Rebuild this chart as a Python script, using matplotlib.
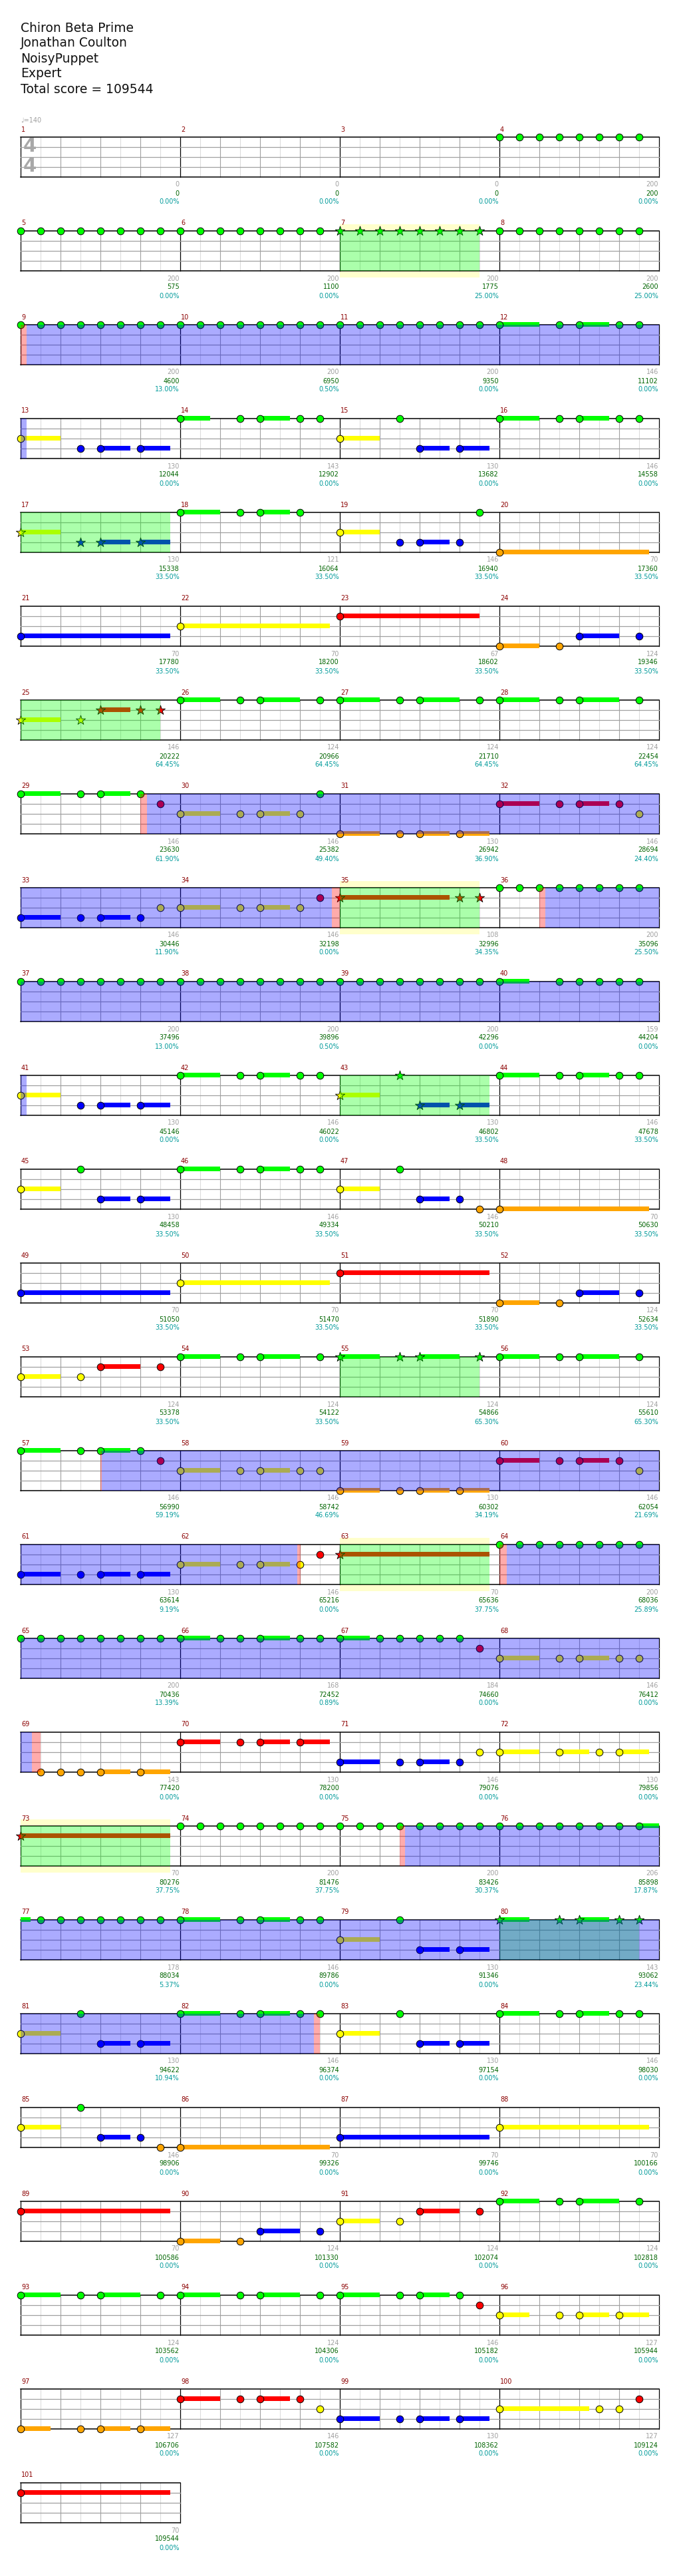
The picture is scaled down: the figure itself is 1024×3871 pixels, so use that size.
import matplotlib
matplotlib.use('Agg')
import matplotlib.pyplot as plt
from matplotlib.patches import Rectangle

title_lines = ["Chiron Beta Prime", "Jonathan Coulton", "NoisyPuppet", "Expert",
               "Total score = 109544"]
tempo = 140

E8 = "0g 2g 4g 6g 8g 10g 12g 14g"
# one string per measure: <pos in 16ths><lane>[sustain in 16ths], "~" = sustain tail only
measure_notes = [
    "", "", "", E8,
    E8, E8, E8, E8,
    E8, E8, E8, "0g4 6g 8g3 12g 14g",
    "0y4 6b 8b3 12b3", "0g3 6g 8g3 12g 14g", "0y4 6g 8b3 12b3", "0g4 6g 8g3 12g 14g",
    "0y4 6b 8b3 12b3", "0g4 6g 8g3 12g", "0y4 6b 8b3 12b 14g", "0o15",
    "0b15", "0y15", "0r14", "0o4 6o 8b4 14b",
    "0y4 6y 8r3 12r 14r", "0g4 6g 8g4 14g", "0g4 6g 8g4 14g", "0g4 6g 8g4 14g",
    "0g4 6g 8g3 12g 14r", "0y4 6y 8y3 12y 14g", "0o4 6o 8o3 12o3", "0r4 6r 8r3 12r 14y",
    "0b4 6b 8b3 12b 14y", "0y4 6y 8y3 12y 14r", "0r11 12r 14r", E8,
    E8, E8, E8, "0g3 6g 8g 10g 12g 14g",
    "0y4 6b 8b3 12b3", "0g4 6g 8g3 12g 14g", "0y4 6g 8b3 12b3", "0g4 6g 8g3 12g 14g",
    "0y4 6g 8b3 12b3", "0g4 6g 8g3 12g 14g", "0y4 6g 8b3 12b 14o", "0o15",
    "0b15", "0y15", "0r15", "0o4 6o 8b4 14b",
    "0y4 6y 8r4 14r", "0g4 6g 8g4 14g", "0g4 6g 8g4 14g", "0g4 6g 8g4 14g",
    "0g4 6g 8g3 12g 14r", "0y4 6y 8y3 12y 14y", "0o4 6o 8o3 12o3", "0r4 6r 8r3 12r 14y",
    "0b4 6b 8b3 12b3", "0y4 6y 8y3 12y 14r", "0r15", E8,
    E8, "0g3 4g 6g 8g3 12g 14g", "0g3 4g 6g 8g 10g 12g 14r", "0y4 6y 8y3 12y 14y",
    "2o 4o 6o 8o3 12o3", "0r4 6r 8r3 12r3", "0b4 6b 8b3 12b 14y", "0y4 6y3 10y 12y3",
    "0r15", E8, E8, "0g 2g 4g 6g 8g 10g 12g 14g2",
    "~0g1 2g 4g 6g 8g 10g 12g 14g", "0g4 6g 8g3 12g 14g", "0y4 6g 8b3 12b3", "0g3 6g 8g3 12g 14g",
    "0y4 6g 8b3 12b3", "0g4 6g 8g3 12g 14g", "0y4 6g 8b3 12b3", "0g4 6g 8g3 12g 14g",
    "0y4 6g 8b3 12b 14o", "0o15", "0b15", "0y15",
    "0r15", "0o4 6o 8b4 14b", "0y4 6y 8r4 14r", "0g4 6g 8g4 14g",
    "0g4 6g 8g4 14g", "0g4 6g 8g4 14g", "0g4 6g 8g3 12g 14r", "0y3 6y 8y3 12y3",
    "0o3 6o 8o3 12o3", "0r4 6r 8r3 12r 14y", "0b4 6b 8b3 12b3", "0y9 10y 12y 14r",
    "0r15",
]

note_score = [0, 0, 0, 200, 200, 200, 200, 200, 200, 200, 200, 146, 130, 143, 130, 146,
              130, 121, 146, 70, 70, 70, 67, 124, 146, 124, 124, 124, 146, 146, 130, 146,
              146, 146, 108, 200, 200, 200, 200, 159, 130, 146, 130, 146, 130, 146, 146, 70,
              70, 70, 70, 124, 124, 124, 124, 124, 146, 146, 130, 146, 130, 146, 70, 200,
              200, 168, 184, 146, 143, 130, 146, 130, 70, 200, 200, 206, 178, 146, 130, 143,
              130, 146, 130, 146, 146, 70, 70, 70, 70, 124, 124, 124, 124, 124, 146, 127,
              127, 146, 130, 127, 70]

total_score = [0, 0, 0, 200, 575, 1100, 1775, 2600, 4600, 6950, 9350, 11102,
               12044, 12902, 13682, 14558, 15338, 16064, 16940, 17360,
               17780, 18200, 18602, 19346, 20222, 20966, 21710, 22454,
               23630, 25382, 26942, 28694, 30446, 32198, 32996, 35096,
               37496, 39896, 42296, 44204, 45146, 46022, 46802, 47678,
               48458, 49334, 50210, 50630, 51050, 51470, 51890, 52634,
               53378, 54122, 54866, 55610, 56990, 58742, 60302, 62054,
               63614, 65216, 65636, 68036, 70436, 72452, 74660, 76412,
               77420, 78200, 79076, 79856, 80276, 81476, 83426, 85898,
               88034, 89786, 91346, 93062, 94622, 96374, 97154, 98030,
               98906, 99326, 99746, 100166, 100586, 101330, 102074, 102818,
               103562, 104306, 105182, 105944, 106706, 107582, 108362, 109124,
               109544]

od_percent = [0.00, 0.00, 0.00, 0.00, 0.00, 0.00, 25.00, 25.00,
              13.00, 0.50, 0.00, 0.00, 0.00, 0.00, 0.00, 0.00,
              33.50, 33.50, 33.50, 33.50, 33.50, 33.50, 33.50, 33.50,
              64.45, 64.45, 64.45, 64.45, 61.90, 49.40, 36.90, 24.40,
              11.90, 0.00, 34.35, 25.50, 13.00, 0.50, 0.00, 0.00,
              0.00, 0.00, 33.50, 33.50, 33.50, 33.50, 33.50, 33.50,
              33.50, 33.50, 33.50, 33.50, 33.50, 33.50, 65.30, 65.30,
              59.19, 46.69, 34.19, 21.69, 9.19, 0.00, 37.75, 25.89,
              13.39, 0.89, 0.00, 0.00, 0.00, 0.00, 0.00, 0.00,
              37.75, 37.75, 30.37, 17.87, 5.37, 0.00, 0.00, 23.44,
              10.94, 0.00, 0.00, 0.00, 0.00, 0.00, 0.00, 0.00,
              0.00, 0.00, 0.00, 0.00, 0.00, 0.00, 0.00, 0.00,
              0.00, 0.00, 0.00, 0.00, 0.00]

# star power phrases (measure, first 16th, last 16th, highlighted band)
phrase_measure = [7, 17, 25, 35, 43, 55, 63, 73, 80]
phrase_start = [0, 0, 0, 0, 0, 0, 0, 0, 0]
phrase_end = [14, 15, 14, 14, 15, 14, 15, 15, 14]
phrase_band = [True, False, False, True, False, False, True, True, False]

# overdrive activations (measure, 16th) -> (measure, 16th)
od_from = [(9, 0.6), (29, 12.67), (36, 4.6), (57, 8.1), (64, 0.75), (75, 6.5)]
od_to = [(13, 0.6), (34, 15.2), (41, 0.6), (62, 11.7), (69, 1.13), (82, 13.4)]
# squeeze / whammy markers (measure, 16th, length in 16ths)
squeeze = [(9, 0, 0.6), (29, 12, 0.67), (34, 15.2, 0.8), (36, 4, 0.6), (57, 8, 0.12),
           (62, 11.7, 0.35), (64, 0, 0.75), (69, 1.13, 0.9), (75, 6, 0.5), (82, 13.4, 0.6)]

lane_color = {'g': '#00ff00', 'r': '#ff0000', 'y': '#ffff00', 'b': '#0000ff', 'o': '#ffa500'}
lane_index = {'g': 0, 'r': 1, 'y': 2, 'b': 3, 'o': 4}

LEFT, MW, TOP, ROWH, LANE, SX = 31, 240, 205.5, 141, 15, 15
n_meas = len(measure_notes)
n_rows = (n_meas + 3) // 4

fig = plt.figure(figsize=(10.24, 38.71), dpi=100)
ax = fig.add_axes([0, 0, 1, 1])
ax.set_xlim(0, 1024)
ax.set_ylim(3871, 0)
ax.axis('off')


def mpos(m, pos=0):
    r, c = (m - 1) // 4, (m - 1) % 4
    return LEFT + c * MW + pos * SX, TOP + r * ROWH


def spans(m1, p1, m2, p2):
    g1, g2 = (m1 - 1) * 16 + p1, (m2 - 1) * 16 + p2
    out = []
    for r in range(n_rows):
        a, b = max(g1, r * 64), min(g2, r * 64 + 64)
        if b > a:
            out.append((LEFT + (a - r * 64) * SX, (b - a) * SX, TOP + r * ROWH))
    return out


for i, t in enumerate(title_lines):
    ax.text(31, 42 + 23 * i, t, fontsize=13.5, va='center', ha='left', color='#111111')
ax.text(31, 181, '\u2669=%d' % tempo, fontsize=7, color='#a0a0a0', va='center')

# star phrase band behind staff
for m, s, e, band in zip(phrase_measure, phrase_start, phrase_end, phrase_band):
    if band:
        x, _ = mpos(m, s)
        _, y0 = mpos(m)
        ax.add_patch(Rectangle((x, y0 - 10), (e - s) * SX, 4 * LANE + 20,
                               color='#ffffcc', lw=0, zorder=1))

# staff grid
for r in range(n_rows):
    y0 = TOP + r * ROWH
    nm = min(4, n_meas - 4 * r)
    x1 = LEFT + nm * MW
    ax.add_patch(Rectangle((LEFT, y0), nm * MW, 4 * LANE, color='white', lw=0, zorder=1.5))
    for k in range(nm * 8 + 1):
        xk = LEFT + k * 30
        if k % 8 == 0:
            col, lw = 'black', 0.9
        elif k % 2 == 0:
            col, lw = '#a0a0a0', 0.8
        else:
            col, lw = '#dcdcdc', 0.8
        ax.plot([xk, xk], [y0, y0 + 4 * LANE], color=col, lw=lw, zorder=2 + (k % 8 == 0) * 0.1)
    for j in range(5):
        col, lw = ('black', 1.1) if j in (0, 4) else ('#a0a0a0', 0.9)
        ax.plot([LEFT, x1], [y0 + j * LANE] * 2, color=col, lw=lw, zorder=2.2)

ax.text(44.5, TOP + 14, '4', fontsize=21, fontweight='bold', color='#a8a8a8',
        ha='center', va='center', zorder=2.5)
ax.text(44.5, TOP + 45, '4', fontsize=21, fontweight='bold', color='#a8a8a8',
        ha='center', va='center', zorder=2.5)


def in_phrase(m, pos):
    for pm, s, e in zip(phrase_measure, phrase_start, phrase_end):
        if pm == m and s <= pos <= e:
            return True
    return False


# notes
for m, txt in enumerate(measure_notes, start=1):
    for tok in txt.split():
        tail = tok.startswith('~')
        tok = tok.lstrip('~')
        k = next(i for i, ch in enumerate(tok) if ch.isalpha())
        pos, lane, length = int(tok[:k]), tok[k], tok[k + 1:]
        x, y0 = mpos(m, pos)
        y = y0 + lane_index[lane] * LANE
        if length:
            ax.barh(y, int(length) * SX, left=x, height=7, color=lane_color[lane],
                    lw=0, zorder=3)
        if tail:
            continue
        if in_phrase(m, pos):
            ax.scatter([x], [y], s=115, marker='*', color=lane_color[lane],
                       edgecolors='black', linewidths=0.6, zorder=4)
        else:
            ax.scatter([x], [y], s=58, marker='o', color=lane_color[lane],
                       edgecolors='black', linewidths=0.7, zorder=4)

# star phrase overlay
for m, s, e in zip(phrase_measure, phrase_start, phrase_end):
    x, y0 = mpos(m, s)
    ax.add_patch(Rectangle((x, y0), (e - s) * SX, 4 * LANE, color='#00ff00',
                           alpha=0.33, lw=0, zorder=5))

# overdrive overlay
for (ma, pa), (mb, pb) in zip(od_from, od_to):
    for x, w, y0 in spans(ma, pa, mb, pb):
        ax.add_patch(Rectangle((x, y0), w, 4 * LANE, color='#0000ff',
                               alpha=0.33, lw=0, zorder=6))
for m, p, w in squeeze:
    x, y0 = mpos(m, p)
    ax.add_patch(Rectangle((x, y0), w * SX, 4 * LANE, color='#ff0000',
                           alpha=0.33, lw=0, zorder=6))

# measure numbers and scores
for m in range(1, n_meas + 1):
    x, y0 = mpos(m)
    ax.text(x + 1, y0 - 6, str(m), fontsize=7, color='#8b0000', ha='left', va='bottom')
    xe = x + MW - 1
    yb = y0 + 4 * LANE
    ax.text(xe, yb + 12, str(note_score[m - 1]), fontsize=7, color='#a0a0a0',
            ha='right', va='center')
    ax.text(xe, yb + 25, str(total_score[m - 1]), fontsize=7, color='#006400',
            ha='right', va='center')
    ax.text(xe, yb + 38, '%.2f%%' % od_percent[m - 1], fontsize=7, color='#009a9a',
            ha='right', va='center')

fig.savefig('out.png', dpi=100)
